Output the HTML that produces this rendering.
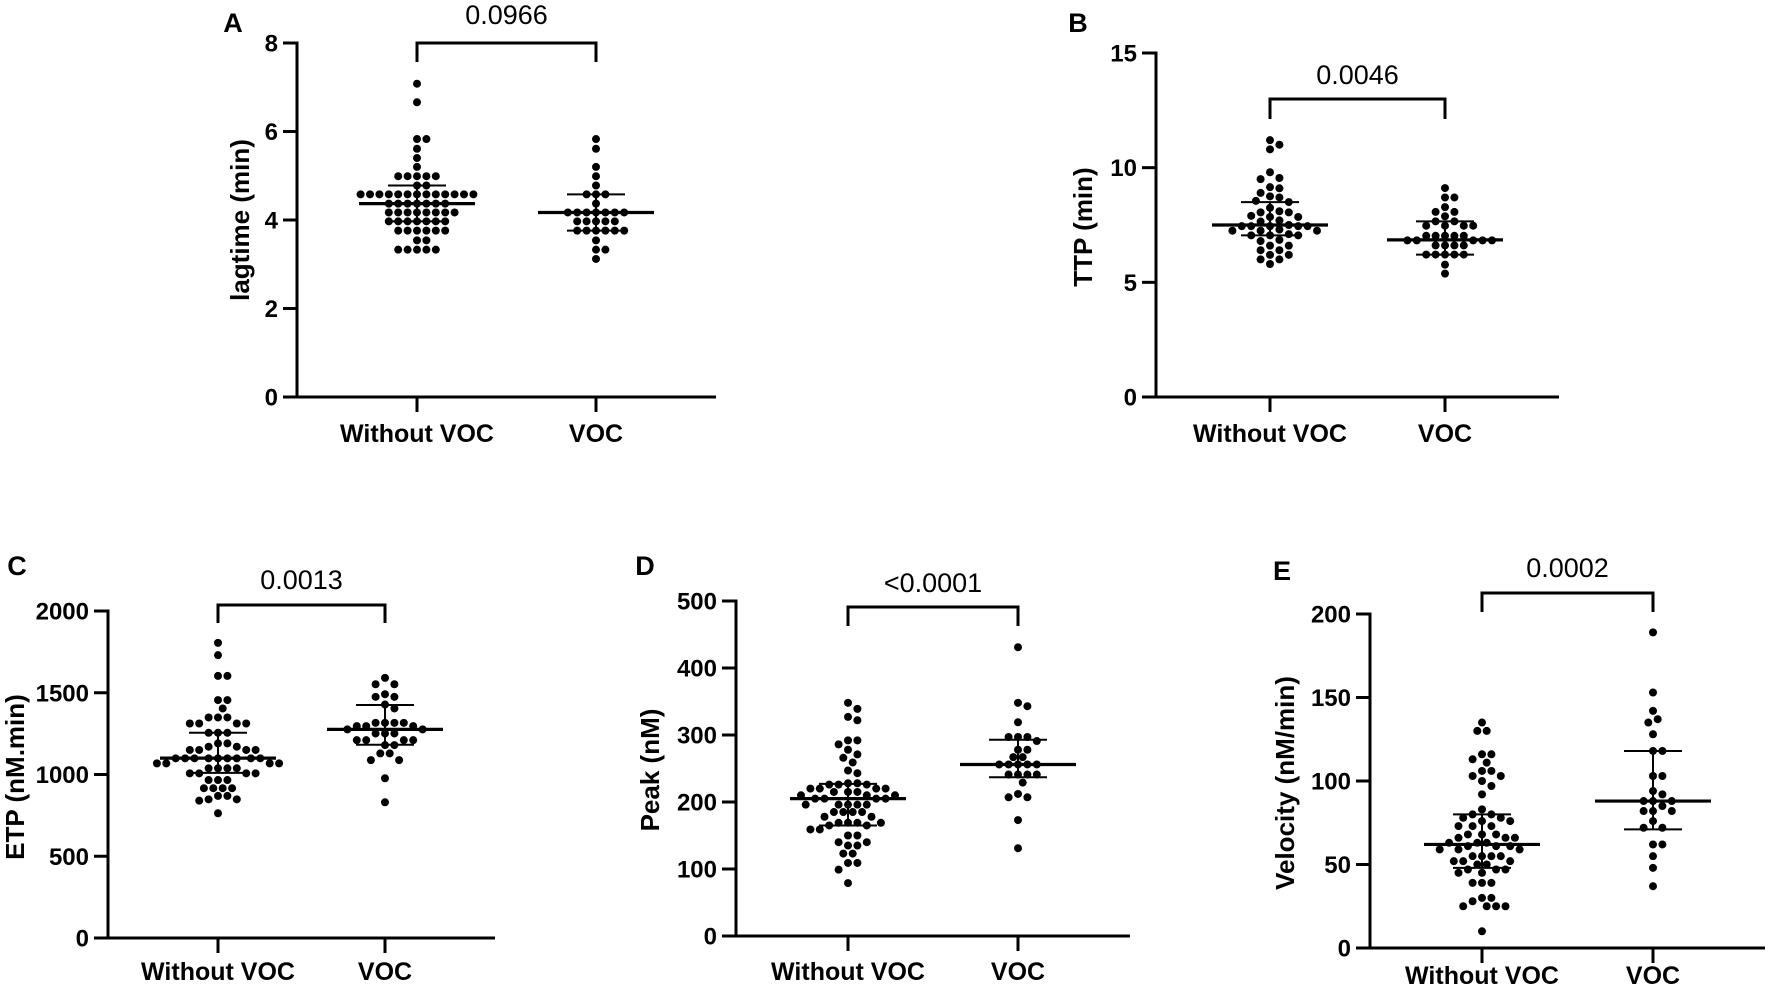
<!DOCTYPE html>
<html><head><meta charset="utf-8"><style>
html,body{margin:0;padding:0;background:#fff;}
svg{display:block;}
text{font-family:"Liberation Sans",Arial,sans-serif;fill:#000;}
.tk{font-size:24px;font-weight:bold;}
.cat{font-size:25px;font-weight:bold;}
.yt{font-size:26px;font-weight:bold;}
.pv{font-size:27px;}
.pl{font-size:27px;font-weight:bold;}
</style></head><body>
<svg id="fig" width="1772" height="994" viewBox="0 0 1772 994" xmlns="http://www.w3.org/2000/svg"></svg>
<script>
// ---- Data ----
const categories = ["Without VOC", "VOC"];
const pValues = ["0.0966", "0.0046", "0.0013", "<0.0001", "0.0002"];
const panelLetters = ["A", "B", "C", "D", "E"];
const yTitles = ["lagtime (min)", "TTP (min)", "ETP (nM.min)", "Peak (nM)", "Velocity (nM/min)"];
const ticksA = [0, 2, 4, 6, 8];
const ticksB = [0, 5, 10, 15];
const ticksC = [0, 500, 1000, 1500, 2000];
const ticksD = [0, 100, 200, 300, 400, 500];
const ticksE = [0, 50, 100, 150, 200];

const aWithout = [7.08,6.66,5.83,5.83,5.61,5.40,5.20,4.99,4.99,4.99,4.99,4.99,4.78,4.78,
 4.58,4.58,4.58,4.58,4.58,4.58,4.58,4.58,4.58,4.58,4.58,4.58,4.58,
 4.37,4.37,4.37,4.37,4.37,4.37,4.37,4.17,4.17,4.17,4.17,4.17,4.17,4.17,4.17,
 3.97,3.97,3.97,3.97,3.97,3.97,3.97,3.76,3.76,3.76,3.76,3.76,3.76,3.54,3.54,3.33,3.33,3.33,3.33,3.33];
const aVoc = [5.83,5.61,5.20,4.99,4.78,4.58,4.58,4.58,4.37,4.17,4.17,4.17,4.17,4.17,4.17,4.17,
 3.97,3.97,3.97,3.97,3.97,3.76,3.76,3.76,3.76,3.76,3.76,3.54,3.33,3.33,3.12];
const aStats = [[4.37,3.97,4.78],[4.17,3.76,4.58]];

const bWithout = [11.2,11.0,10.8,9.8,9.55,9.5,9.1,9.15,8.9,8.7,8.75,8.5,8.55,8.25,
 8.05,8.1,8.05,7.85,7.9,7.85,7.65,7.7,7.45,7.45,7.5,7.45,7.45,7.45,
 7.25,7.25,7.3,7.25,7.05,7.05,7.1,7.05,6.8,6.85,6.6,6.6,6.4,6.4,6.2,6.2,6.0,6.0,5.8];
const bVoc = [9.11,8.7,8.7,8.28,8.07,8.07,7.88,7.66,7.66,7.47,7.47,7.47,7.47,7.03,7.03,7.03,7.03,7.03,
 6.83,6.83,6.83,6.83,6.83,6.61,6.61,6.61,6.61,6.21,6.21,6.21,6.21,6.21,5.77,5.38];
const bStats = [[7.5,7.05,8.5],[6.85,6.21,7.66]];

const cWithout = [1805,1730,1603,1603,1455,1455,1404,1349,1349,1349,1312,1312,1312,1312,1255,1255,1255,
 1190,1190,1170,1170,1150,1150,1150,1150,1099,1099,1099,1099,1099,1099,1099,1099,1099,
 1068,1068,1068,1068,1038,1038,1038,1038,1007,1007,1007,1007,966,966,966,916,916,916,916,869,869,848,848,840,763];
const cVoc = [1591,1552,1552,1491,1475,1475,1428,1404,1316,1316,1316,1316,1296,1296,1296,1276,1276,
 1251,1251,1251,1210,1210,1210,1210,1180,1180,1129,1129,1088,1088,977,830];
const cStats = [[1100,1010,1255],[1276,1182,1425]];

const dWithout = [348,339,327,322,292,292,286,278,271,266,259,247,243,228,228,226,226,226,220,220,220,220,
 215,215,215,210,210,210,205,205,205,205,196,196,196,196,196,185,185,185,185,178,178,169,169,169,169,165,165,
 159,159,150,150,140,140,135,135,123,123,109,109,99,79];
const dVoc = [431,348,343,319,297,297,297,291,278,278,267,267,256,256,256,256,256,241,241,241,241,229,212,207,207,173,131];
const dStats = [[205,165,227],[256,237,293]];

const eWithout = [135,130,130,116,116,113,111,106,106,103,103,100,97,92,83,80,80,78,78,76,76,73,73,73,
 68,68,68,66,66,66,63,63,63,61,61,61,59,59,59,55,55,55,55,52,52,52,50,50,47,47,47,45,45,39,39,39,30,30,28,25,25,25,25,10];
const eVoc = [189,153,142,137,135,128,118,118,103,103,94,92,88,88,88,85,82,82,82,76,72,72,62,62,55,48,37];
const eStats = [[62,48,80],[88,71,118]];

// ---- Layout (pixel geometry) ----
const panels = [
 {ax:297, y0:397, yTop:43, max:8, ticks:ticksA, c1:417, c2:596, xEnd:716, brY:43, brD:19, pvY:24, letX:233, letY:32, ttlX:240, ttlY:220, catY:442, g:[aWithout,aVoc], st:aStats},
 {ax:1156, y0:397, yTop:53, max:15, ticks:ticksB, c1:1270, c2:1445, xEnd:1559, brY:99, brD:20, pvY:84, letX:1078, letY:32, ttlX:1083, ttlY:227, catY:442, g:[bWithout,bVoc], st:bStats},
 {ax:108, y0:938, yTop:611, max:2000, ticks:ticksC, c1:218, c2:385, xEnd:495, brY:605, brD:18, pvY:589, letX:17, letY:575, ttlX:15, ttlY:777, catY:980, g:[cWithout,cVoc], st:cStats},
 {ax:736, y0:936, yTop:601, max:500, ticks:ticksD, c1:848, c2:1018, xEnd:1130, brY:607, brD:19, pvY:592, letX:645, letY:575, ttlX:650, ttlY:770, catY:980, g:[dWithout,dVoc], st:dStats},
 {ax:1370, y0:948, yTop:614, max:200, ticks:ticksE, c1:1482, c2:1653, xEnd:1765, brY:593, brD:19, pvY:577, letX:1282, letY:580, ttlX:1285, ttlY:783, catY:984, g:[eWithout,eVoc], st:eStats}
];
const NS = "http://www.w3.org/2000/svg";
const svg = document.getElementById("fig");
function mk(tag, attrs, parent){const e=document.createElementNS(NS,tag);for(const k in attrs)e.setAttribute(k,attrs[k]);(parent||svg).appendChild(e);return e;}

panels.forEach((p, pi) => {
  const yScale = v => p.y0 - (v / p.max) * (p.y0 - p.yTop);
  const xScale = i => i === 0 ? p.c1 : p.c2;
  const g = mk("g", {});
  
  

  const letter = mk("text", {x:p.letX, y:p.letY, "text-anchor":"middle", class:"pl"}, g);
  letter.textContent = panelLetters[pi];
  
  

  const yAxis = mk("line", {x1:p.ax, y1:p.yTop-1.5, x2:p.ax, y2:p.y0+1.5, stroke:"#000", "stroke-width":3}, g);
  
  
  const xAxis = mk("line", {x1:p.ax-14, y1:p.y0, x2:p.xEnd, y2:p.y0, stroke:"#000", "stroke-width":3}, g);
  
  

  p.ticks.forEach(t => {
    const y = yScale(t);
    const tl = mk("line", {x1:p.ax-14, y1:y, x2:p.ax, y2:y, stroke:"#000", "stroke-width":3}, g);
    
    
    const tx = mk("text", {x:p.ax-19, y:y+8.5, "text-anchor":"end", class:"tk"}, g);
    tx.textContent = t;
    
    
  });

  const ttl = mk("text", {x:0, y:0, "text-anchor":"middle", class:"yt", transform:`translate(${p.ttlX+9},${p.ttlY}) rotate(-90)`}, g);
  ttl.textContent = yTitles[pi];
  
  

  categories.forEach((c, ci) => {
    const x = xScale(ci);
    const tl = mk("line", {x1:x, y1:p.y0, x2:x, y2:p.y0+15, stroke:"#000", "stroke-width":3}, g);
    
    
    const tx = mk("text", {x:x, y:p.catY, "text-anchor":"middle", class:"cat"}, g);
    tx.textContent = c;
    
    
  });

  const br = mk("path", {d:`M${p.c1},${p.brY+p.brD} V${p.brY} H${p.c2} V${p.brY+p.brD}`, fill:"none", stroke:"#000", "stroke-width":3}, g);
  
  
  const pv = mk("text", {x:(p.c1+p.c2)/2, y:p.pvY, "text-anchor":"middle", class:"pv"}, g);
  pv.textContent = pValues[pi];
  
  

  const S = 9.4, R = 4;
  p.g.forEach((vals, ci) => {
    const cx = xScale(ci);
    const placed = [];
    const sorted = vals.slice().sort((a,b)=>b-a);
    sorted.forEach(v => {
      const y = yScale(v);
      let off = 0;
      for (let k = 0; k < 60; k++) {
        const cand = k === 0 ? 0 : (k % 2 ? 1 : -1) * Math.ceil(k/2) * S * 0.5;
        const ok = placed.every(q => Math.hypot(q[0]-(cx+cand), q[1]-y) >= S*0.92);
        if (ok) { off = cand; break; }
      }
      placed.push([cx+off, y]);
      const d = mk("circle", {cx:cx+off, cy:y, r:R, fill:"#000"}, g);
      
      
    });
    const st = p.st[ci];
    const my = yScale(st[0]);
    const med = mk("line", {x1:cx-58, y1:my, x2:cx+58, y2:my, stroke:"#000", "stroke-width":3.2}, g);
    
    
    const ev = mk("line", {x1:cx, y1:yScale(st[1]), x2:cx, y2:yScale(st[2]), stroke:"#000", "stroke-width":2}, g);
    
    
    [st[1], st[2]].forEach(v => {
      const cap = mk("line", {x1:cx-29, y1:yScale(v), x2:cx+29, y2:yScale(v), stroke:"#000", "stroke-width":2}, g);
      
      
    });
  });
});
</script>
</body></html>
